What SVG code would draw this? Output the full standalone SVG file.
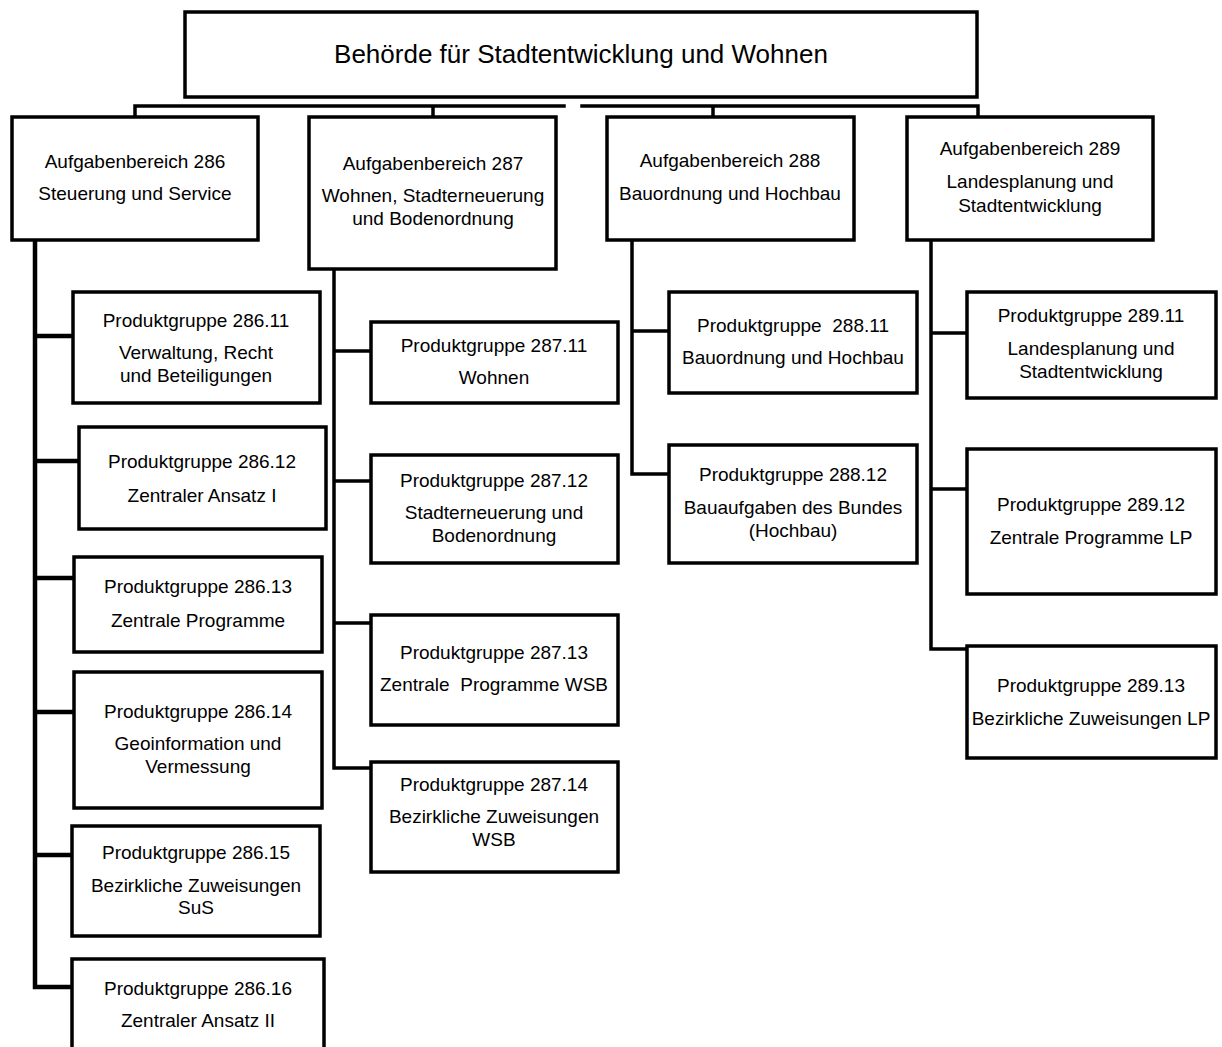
<svg xmlns="http://www.w3.org/2000/svg" width="1222" height="1047" viewBox="0 0 1222 1047">
<style>
.box{fill:#fff;stroke:#000;stroke-width:3.5}
.ln{fill:none;stroke:#000;stroke-width:3.5;stroke-linejoin:miter;stroke-linecap:square}
.thick{stroke-width:4.5}
.t{font-family:"Liberation Sans",Arial,sans-serif;font-size:19px;text-anchor:middle;fill:#000;white-space:pre}
.title{font-size:26px}
</style>
<rect width="1222" height="1047" fill="#fff"/>
<g id="connectors">
<path class="ln" d="M135,117 V106 H564 M582,106 H978 V117 M433,106 V117 M713,106 V117"/>
<path class="ln thick" d="M35,240 V987 H72 M35,336 H73 M35,461 H79 M35,578 H74 M35,712 H74 M35,855 H72"/>
<path class="ln" d="M334,269 V768 H371 M334,351 H371 M334,481 H371 M334,623 H371"/>
<path class="ln" d="M632,240 V474 H669 M632,331 H669"/>
<path class="ln" d="M931,240 V649 H967 M931,333 H967 M931,489 H967"/>
</g>
<g id="n-top"><rect class="box" x="185" y="12" width="792" height="85"/><text class="t title" x="581" y="63">Behörde für Stadtentwicklung und Wohnen</text></g>
<g id="n-286"><rect class="box" x="12" y="117" width="246" height="123"/><text class="t" x="135" y="168">Aufgabenbereich 286</text><text class="t" x="135" y="200">Steuerung und Service</text></g>
<g id="n-287"><rect class="box" x="309" y="117" width="247" height="152"/><text class="t" x="433" y="170">Aufgabenbereich 287</text><text class="t" x="433" y="202">Wohnen, Stadterneuerung</text><text class="t" x="433" y="225">und Bodenordnung</text></g>
<g id="n-288"><rect class="box" x="607" y="117" width="247" height="123"/><text class="t" x="730" y="167">Aufgabenbereich 288</text><text class="t" x="730" y="200">Bauordnung und Hochbau</text></g>
<g id="n-289"><rect class="box" x="907" y="117" width="246" height="123"/><text class="t" x="1030" y="155">Aufgabenbereich 289</text><text class="t" x="1030" y="188">Landesplanung und</text><text class="t" x="1030" y="212">Stadtentwicklung</text></g>
<g id="n-286-11"><rect class="box" x="73" y="292" width="247" height="111"/><text class="t" x="196" y="327">Produktgruppe 286.11</text><text class="t" x="196" y="359">Verwaltung, Recht</text><text class="t" x="196" y="382">und Beteiligungen</text></g>
<g id="n-286-12"><rect class="box" x="79" y="427" width="247" height="102"/><text class="t" x="202" y="468">Produktgruppe 286.12</text><text class="t" x="202" y="502">Zentraler Ansatz I</text></g>
<g id="n-286-13"><rect class="box" x="74" y="557" width="248" height="95"/><text class="t" x="198" y="593">Produktgruppe 286.13</text><text class="t" x="198" y="627">Zentrale Programme</text></g>
<g id="n-286-14"><rect class="box" x="74" y="672" width="248" height="136"/><text class="t" x="198" y="718">Produktgruppe 286.14</text><text class="t" x="198" y="750">Geoinformation und</text><text class="t" x="198" y="773">Vermessung</text></g>
<g id="n-286-15"><rect class="box" x="72" y="826" width="248" height="110"/><text class="t" x="196" y="859">Produktgruppe 286.15</text><text class="t" x="196" y="892">Bezirkliche Zuweisungen</text><text class="t" x="196" y="914">SuS</text></g>
<g id="n-286-16"><rect class="box" x="72" y="959" width="252" height="110"/><text class="t" x="198" y="995">Produktgruppe 286.16</text><text class="t" x="198" y="1027">Zentraler Ansatz II</text></g>
<g id="n-287-11"><rect class="box" x="371" y="322" width="247" height="81"/><text class="t" x="494" y="352">Produktgruppe 287.11</text><text class="t" x="494" y="384">Wohnen</text></g>
<g id="n-287-12"><rect class="box" x="371" y="455" width="247" height="108"/><text class="t" x="494" y="487">Produktgruppe 287.12</text><text class="t" x="494" y="519">Stadterneuerung und</text><text class="t" x="494" y="542">Bodenordnung</text></g>
<g id="n-287-13"><rect class="box" x="371" y="615" width="247" height="110"/><text class="t" x="494" y="659">Produktgruppe 287.13</text><text class="t" x="494" y="691">Zentrale  Programme WSB</text></g>
<g id="n-287-14"><rect class="box" x="371" y="762" width="247" height="110"/><text class="t" x="494" y="791">Produktgruppe 287.14</text><text class="t" x="494" y="823">Bezirkliche Zuweisungen</text><text class="t" x="494" y="846">WSB</text></g>
<g id="n-288-11"><rect class="box" x="669" y="292" width="248" height="101"/><text class="t" x="793" y="332">Produktgruppe  288.11</text><text class="t" x="793" y="364">Bauordnung und Hochbau</text></g>
<g id="n-288-12"><rect class="box" x="669" y="445" width="248" height="118"/><text class="t" x="793" y="481">Produktgruppe 288.12</text><text class="t" x="793" y="514">Bauaufgaben des Bundes</text><text class="t" x="793" y="537">(Hochbau)</text></g>
<g id="n-289-11"><rect class="box" x="967" y="292" width="249" height="106"/><text class="t" x="1091" y="322">Produktgruppe 289.11</text><text class="t" x="1091" y="355">Landesplanung und</text><text class="t" x="1091" y="378">Stadtentwicklung</text></g>
<g id="n-289-12"><rect class="box" x="967" y="449" width="249" height="145"/><text class="t" x="1091" y="511">Produktgruppe 289.12</text><text class="t" x="1091" y="544">Zentrale Programme LP</text></g>
<g id="n-289-13"><rect class="box" x="967" y="646" width="249" height="112"/><text class="t" x="1091" y="692">Produktgruppe 289.13</text><text class="t" x="1091" y="725">Bezirkliche Zuweisungen LP</text></g>
</svg>
